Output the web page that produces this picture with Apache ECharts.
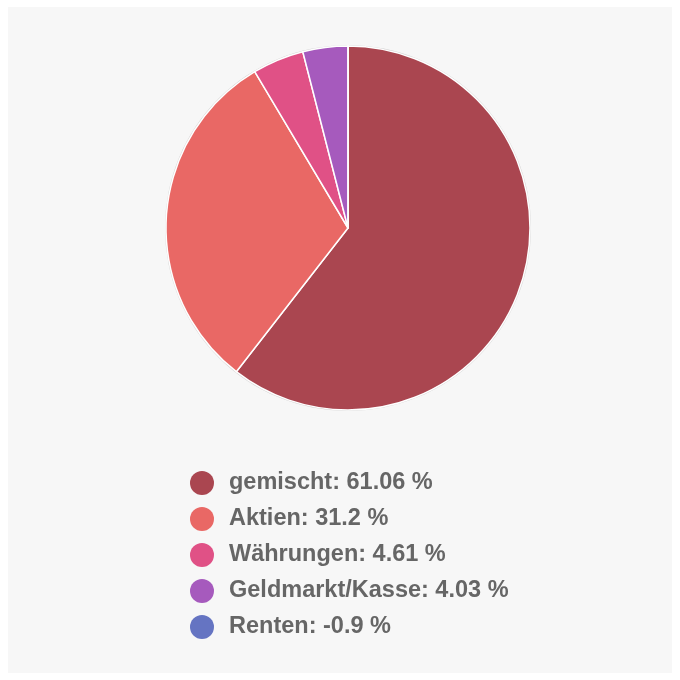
<!DOCTYPE html>
<html>
<head>
<meta charset="utf-8">
<script src="https://cdn.jsdelivr.net/npm/echarts@6/dist/echarts.min.js"></script>
<style>
  html, body { margin: 0; padding: 0; background: #ffffff; }
  #chart { position: absolute; left: 8px; top: 7px; width: 664px; height: 666px; background: #f7f7f7; }
</style>
</head>
<body>
<div id="chart"></div>
<script>
const categories = ["gemischt", "Aktien", "Währungen", "Geldmarkt/Kasse", "Renten"];
const values = [61.06, 31.2, 4.61, 4.03, -0.9];
const colors = ["#AA4650", "#E96865", "#E05186", "#A65ABD", "#6574C2"];

const valueByName = {};
categories.forEach((c, i) => { valueByName[c] = values[i]; });

const pieData = categories.map((c, i) => ({
  name: c,
  value: Math.max(0, values[i]),
  itemStyle: { color: colors[i] }
}));

const chart = echarts.init(document.getElementById('chart'), null, { renderer: 'canvas' });
chart.setOption({
  backgroundColor: '#f7f7f7',
  animation: false,
  legend: {
    data: categories,
    orient: 'vertical',
    left: 177,
    top: 459,
    icon: 'circle',
    itemWidth: 24,
    itemHeight: 24,
    itemGap: 12,
    selectedMode: false,
    itemStyle: { borderWidth: 0 },
    formatter: function (name) { return name + ': ' + valueByName[name] + ' %'; },
    textStyle: {
      fontFamily: 'Liberation Sans, Arial, sans-serif',
      fontWeight: 'bold',
      fontSize: 23.5,
      lineHeight: 24,
      color: '#666666',
      padding: [0, 0, 0, 10]
    }
  },
  series: [
    {
      type: 'pie',
      silent: true,
      center: [340, 221],
      radius: 183,
      z: 1,
      label: { show: false },
      labelLine: { show: false },
      data: [{ name: '_ring', value: 1, itemStyle: { color: '#cfcfcf' } }]
    },
    {
      type: 'pie',
      center: [340, 221],
      radius: 182,
      startAngle: 90,
      clockwise: true,
      z: 2,
      label: { show: false },
      labelLine: { show: false },
      itemStyle: { borderColor: '#ffffff', borderWidth: 1.5 },
      emphasis: { scale: false },
      data: pieData
    }
  ]
});
</script>
</body>
</html>
